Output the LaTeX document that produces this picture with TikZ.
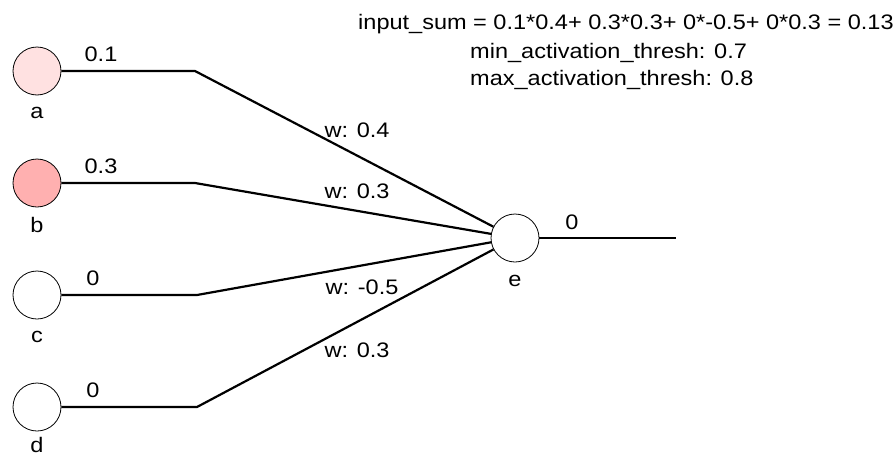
\documentclass[tikz,border=0pt]{standalone}
\usepackage{fontspec}
\setmainfont[FakeStretch=1.12]{Liberation Sans}
\definecolor{pinkA}{RGB}{255,225,225}
\definecolor{pinkB}{RGB}{255,176,176}
\begin{document}
\begin{tikzpicture}[x=1pt,y=-1pt,
  neuron/.style={circle,draw=black,line width=0.8pt,minimum size=48pt,inner sep=0pt},
  wire/.style={line width=2.2pt,line join=round},
  lbl/.style={font=\fontsize{21}{25}\selectfont,inner sep=0pt}]
\useasboundingbox (0,0) rectangle (896,458);
\node[neuron,fill=pinkA] (a) at (37,71) {};
\node[neuron,fill=pinkB] (b) at (37,183) {};
\node[neuron,fill=white] (c) at (37,295) {};
\node[neuron,fill=white] (d) at (37,407) {};
\node[neuron,fill=white] (e) at (515,238) {};
\coordinate (ka) at (195,71);
\coordinate (kb) at (195,183);
\coordinate (kc) at (197,295);
\coordinate (kd) at (197,407);
\coordinate (out) at (676,238);
\draw[wire] (a) -- (ka) -- (e);
\draw[wire] (b) -- (kb) -- (e);
\draw[wire] (c) -- (kc) -- (e);
\draw[wire] (d) -- (kd) -- (e);
\draw[wire] (e) -- (out);
\node[lbl] (la) at (37,113) {a};
\node[lbl] (lb) at (37,225) {b};
\node[lbl] (lc) at (37,337) {c};
\node[lbl] (ld) at (37,445) {d};
\node[lbl] (le) at (515,281) {e};
\node[lbl] (va) at (101,54) {0.1};
\node[lbl] (vb) at (101,166) {0.3};
\node[lbl] (vc) at (93,278) {0};
\node[lbl] (vd) at (93,390) {0};
\node[lbl] (ve) at (572,222) {0};
\node[lbl] (wa) at (357,130) {w: 0.4};
\node[lbl] (wb) at (357,191) {w: 0.3};
\node[lbl] (wc) at (362,287) {w: -0.5};
\node[lbl] (wd) at (357,350) {w: 0.3};
\node[lbl,anchor=base west] (t1) at (358,29) {input\_sum = 0.1*0.4+ 0.3*0.3+ 0*-0.5+ 0*0.3 = 0.13};
\node[lbl,anchor=base west] (t2) at (470,58) {min\_activation\_thresh: 0.7};
\node[lbl,anchor=base west] (t3) at (470,85) {max\_activation\_thresh: 0.8};
\end{tikzpicture}
\end{document}
